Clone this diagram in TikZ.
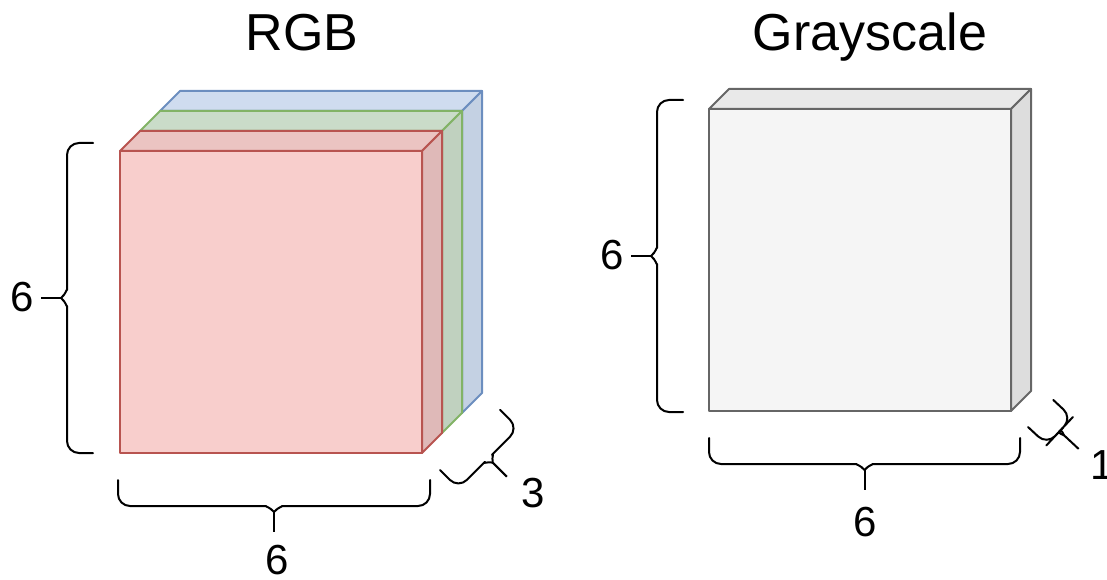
\documentclass[tikz,border=0pt]{standalone}
\usepackage{fontspec}
\setmainfont{Liberation Sans}
\definecolor{redFront}{HTML}{F8CECC}\definecolor{redTop}{HTML}{EBC4C2}
\definecolor{redSide}{HTML}{DFB9B8}\definecolor{redLine}{HTML}{B85450}
\definecolor{grnFront}{HTML}{D5E8D4}\definecolor{grnTop}{HTML}{CADCC9}
\definecolor{grnSide}{HTML}{C0D1BF}\definecolor{grnLine}{HTML}{82B366}
\definecolor{bluFront}{HTML}{DAE8FC}\definecolor{bluTop}{HTML}{CFDCEF}
\definecolor{bluSide}{HTML}{C4D1E3}\definecolor{bluLine}{HTML}{6C8EBF}
\definecolor{gryFront}{HTML}{F5F5F5}\definecolor{gryTop}{HTML}{E9E9E9}
\definecolor{grySide}{HTML}{DDDDDD}\definecolor{gryLine}{HTML}{666666}
\tikzset{
  title/.style={font=\fontsize{52}{60}\selectfont, anchor=base, inner sep=0pt},
  dim/.style={font=\fontsize{42}{50}\selectfont, inner sep=0pt},
  % one colour layer, 302 wide, 20 deep
  pics/slab/.style={code={
    \draw[draw=#1Line, fill=#1Front] (0,0) rectangle (302,302);
    \draw[draw=#1Line, fill=#1Top] (0,0) -- (20,-20) -- (322,-20) -- (302,0) -- cycle;
    \draw[draw=#1Line, fill=#1Side] (302,0) -- (322,-20) -- (322,282) -- (302,302) -- cycle;
  }},
  % curly brace of length #1, tip 52 deep
  pics/curly/.style={code={
    \draw[line cap=round] (0,0) [rounded corners=12pt] -- (0,26) -- ({#1/2-min(20,#1/5)},26) [sharp corners] .. controls ({#1/2-min(10,#1/10)},26) and ({#1/2-min(4,#1/25)},27) .. (#1/2,32);
    \draw[line cap=round] (#1,0) [rounded corners=12pt] -- (#1,26) -- ({#1/2+min(20,#1/5)},26) [sharp corners] .. controls ({#1/2+min(10,#1/10)},26) and ({#1/2+min(4,#1/25)},27) .. (#1/2,32);
    \draw (#1/2,32) -- (#1/2,52);
  }}
}
\begin{document}
\begin{tikzpicture}[x=1pt, y=-1pt, line width=2pt, line join=round]
\useasboundingbox (0,0) rectangle (1107,580);
% RGB
\foreach \c/\x/\y in {blu/160/111, grn/140/131, red/120/151}
  \pic at (\x,\y) {slab=\c};
\node[title] (rgb) at (302,51) {RGB};
\pic[rotate=-90] at (93,143) {curly=310};
\pic at (118,480) {curly=312};
\pic[rotate=45] at (440,470) {curly=85};
\node[dim] (rh) at (22,297) {6};
\node[dim] (rw) at (277,560) {6};
\node[dim] (rd) at (533,493) {3};
% Grayscale
\pic at (709,109) {slab=gry};
\node[title] (gray) at (870,51) {Grayscale};
\pic[rotate=-90] at (683,100) {curly=312};
\pic at (709,438) {curly=311};
\pic[rotate=47] at (1028,427) {curly=37};
\node[dim] (gh) at (612,255) {6};
\node[dim] (gw) at (865,522) {6};
\node[dim] (gd) at (1102,465) {1};
\end{tikzpicture}
\end{document}
